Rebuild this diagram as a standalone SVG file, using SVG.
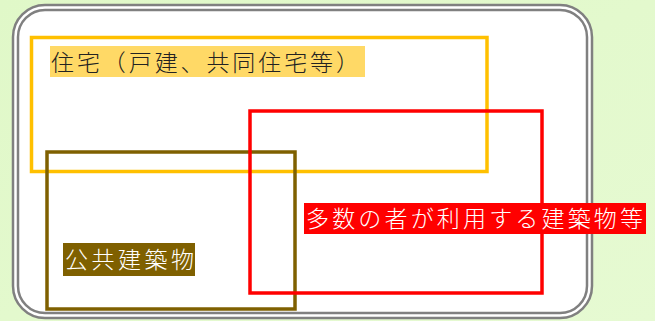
<svg xmlns="http://www.w3.org/2000/svg" width="655" height="321" viewBox="0 0 655 321">
  <defs>
    <linearGradient id="bg" x1="0" y1="0" x2="1" y2="1">
      <stop offset="0" stop-color="#e0f8c8"/>
      <stop offset="1" stop-color="#e6fad2"/>
    </linearGradient>
  </defs>
  <style>
    .frame { fill: none; stroke: #808080; stroke-width: 2.5; }
    .set { fill: none; stroke-width: 3.5; }
    .lbl { font-family: "Noto Sans CJK JP", "Noto Sans CJK SC", sans-serif; font-size: 23px; font-weight: 300; }
  </style>
  <rect x="0" y="0" width="655" height="321" fill="url(#bg)"/>
  <g id="frame">
    <rect x="13" y="5" width="579" height="313" rx="32" ry="32" fill="#ffffff" stroke="#808080" stroke-width="2.5"/>
    <rect class="frame" x="18" y="10" width="569" height="303" rx="27" ry="27"/>
  </g>
  <g id="housing">
    <rect class="set" x="31.5" y="37.5" width="455.5" height="134" stroke="#ffc000"/>
  </g>
  <g id="public">
    <rect class="set" x="47" y="152" width="248" height="157" stroke="#7f6000"/>
  </g>
  <g id="many">
    <rect class="set" x="250" y="111" width="292" height="182" stroke="#ff0000"/>
  </g>
  <g id="housing-label">
    <rect x="50" y="46" width="315" height="31" fill="#ffd966"/>
    <text class="lbl" x="51" y="71" textLength="308" lengthAdjust="spacing" fill="#222222">住宅（戸建、共同住宅等）</text>
  </g>
  <g id="many-label">
    <rect x="304" y="203" width="342" height="31" fill="#ff0000"/>
    <text class="lbl" x="306" y="227" textLength="337" lengthAdjust="spacing" fill="#ffffff">多数の者が利用する建築物等</text>
  </g>
  <g id="public-label">
    <rect x="63" y="243" width="132" height="33" fill="#7f6000"/>
    <text class="lbl" x="65" y="268" textLength="129" lengthAdjust="spacing" fill="#ffffff">公共建築物</text>
  </g>
</svg>
